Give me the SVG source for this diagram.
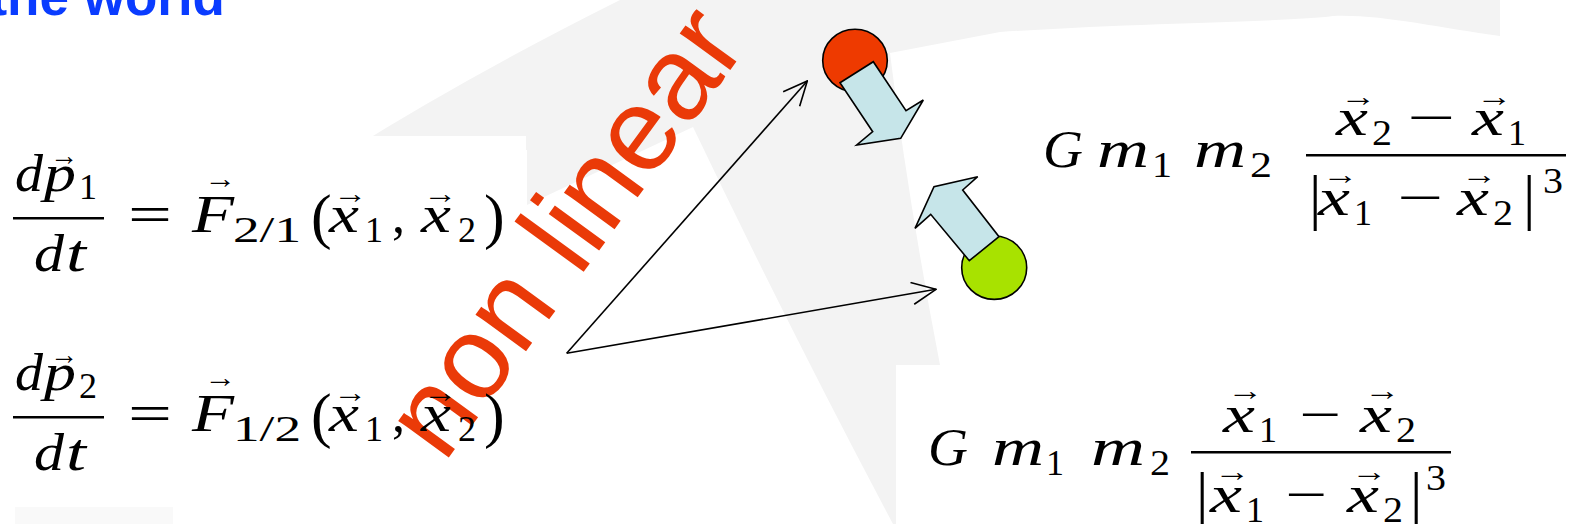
<svg xmlns="http://www.w3.org/2000/svg" width="1570" height="524" viewBox="0 0 1570 524">
<style>
.m{font-family:"Liberation Serif","Times New Roman",serif;font-size:52px;font-style:italic;fill:#000}
.r{font-style:normal}
.s{font-size:36px;font-style:normal}
.v{font-size:28px;font-style:normal}
.p{font-size:62px;font-style:normal}
.ln{fill:none;stroke:#000;stroke-width:1.6}
.blk{fill:#c6e5e9;stroke:#000;stroke-width:1.6;stroke-linejoin:miter}
</style>
<defs>
<marker id="open" markerUnits="userSpaceOnUse" markerWidth="26" markerHeight="24" viewBox="-1 -1 26 24" refX="24" refY="11" orient="auto">
<path d="M0,0 L24,11 L0,22" fill="none" stroke="#000" stroke-width="1.6"/>
</marker>
</defs>
<rect width="1570" height="524" fill="#fff"/>
<g id="background">
<path d="M350,150 Q470,75 620,0 L1500,0 L1500,36 C1440,28 1380,14 1333,16 C1290,22 1150,22 1000,32 L890,53 Q908,200 940,365 L960,524 L893,524 Q790,330 693,127 L527,205 L527,150 Z" fill="#f3f3f3"/>
<rect x="0" y="136" width="526" height="280" fill="#fff"/>
<rect x="896" y="365" width="674" height="159" fill="#fff"/>
<rect x="15" y="507" width="158" height="17" fill="#f9f9f9"/>
</g>
<g id="title">
<text x="225" y="15" text-anchor="end" font-family="Liberation Sans, Arial, sans-serif" font-weight="bold" font-size="53" fill="#0a3cff">the world</text>
</g>
<g id="label-nonlinear">
<text x="444" y="464" transform="rotate(-54 444 464)" font-family="Liberation Sans, Arial, sans-serif" font-size="118" fill="#ea3a08">non linear</text>
</g>
<g id="eq1" class="m">
<text x="15" y="191" textLength="28" lengthAdjust="spacingAndGlyphs">d</text>
<text x="44" y="191" textLength="32" lengthAdjust="spacingAndGlyphs">p</text>
<text class="v" x="50" y="165" textLength="28" lengthAdjust="spacingAndGlyphs">→</text>
<text class="s" x="79" y="199" textLength="18" lengthAdjust="spacingAndGlyphs">1</text>
<rect x="13" y="217" width="91" height="2.5"/>
<text x="34" y="271" textLength="30" lengthAdjust="spacingAndGlyphs">d</text>
<text x="66" y="271" textLength="20" lengthAdjust="spacingAndGlyphs">t</text>
<text class="r" x="128" y="232" textLength="44" lengthAdjust="spacingAndGlyphs">=</text>
<text x="192" y="232" textLength="42" lengthAdjust="spacingAndGlyphs">F</text>
<text class="v" x="204" y="188" textLength="32" lengthAdjust="spacingAndGlyphs">→</text>
<text class="s" x="233" y="242" textLength="68" lengthAdjust="spacingAndGlyphs">2/1</text>
<text class="p" x="311" y="237">(</text>
<text x="329" y="232" textLength="30" lengthAdjust="spacingAndGlyphs">x</text>
<text class="v" x="333" y="203" textLength="34" lengthAdjust="spacingAndGlyphs">→</text>
<text class="s" x="365" y="242" textLength="18" lengthAdjust="spacingAndGlyphs">1</text>
<text class="r" x="392" y="232">,</text>
<text x="421" y="232" textLength="30" lengthAdjust="spacingAndGlyphs">x</text>
<text class="v" x="423" y="203" textLength="34" lengthAdjust="spacingAndGlyphs">→</text>
<text class="s" x="458" y="242" textLength="18" lengthAdjust="spacingAndGlyphs">2</text>
<text class="p" x="484" y="237">)</text>
</g>
<g id="eq2" class="m">
<text x="15" y="390" textLength="28" lengthAdjust="spacingAndGlyphs">d</text>
<text x="44" y="390" textLength="32" lengthAdjust="spacingAndGlyphs">p</text>
<text class="v" x="50" y="364" textLength="28" lengthAdjust="spacingAndGlyphs">→</text>
<text class="s" x="79" y="398" textLength="18" lengthAdjust="spacingAndGlyphs">2</text>
<rect x="13" y="416" width="91" height="2.5"/>
<text x="34" y="470" textLength="30" lengthAdjust="spacingAndGlyphs">d</text>
<text x="66" y="470" textLength="20" lengthAdjust="spacingAndGlyphs">t</text>
<text class="r" x="128" y="431" textLength="44" lengthAdjust="spacingAndGlyphs">=</text>
<text x="192" y="431" textLength="42" lengthAdjust="spacingAndGlyphs">F</text>
<text class="v" x="204" y="387" textLength="32" lengthAdjust="spacingAndGlyphs">→</text>
<text class="s" x="233" y="441" textLength="68" lengthAdjust="spacingAndGlyphs">1/2</text>
<text class="p" x="311" y="436">(</text>
<text x="329" y="431" textLength="30" lengthAdjust="spacingAndGlyphs">x</text>
<text class="v" x="333" y="402" textLength="34" lengthAdjust="spacingAndGlyphs">→</text>
<text class="s" x="365" y="441" textLength="18" lengthAdjust="spacingAndGlyphs">1</text>
<text class="r" x="392" y="431">,</text>
<text x="421" y="431" textLength="30" lengthAdjust="spacingAndGlyphs">x</text>
<text class="v" x="423" y="402" textLength="34" lengthAdjust="spacingAndGlyphs">→</text>
<text class="s" x="458" y="441" textLength="18" lengthAdjust="spacingAndGlyphs">2</text>
<text class="p" x="484" y="436">)</text>
</g>
<g id="force-top" class="m">
<text x="1043" y="167" textLength="40" lengthAdjust="spacingAndGlyphs">G</text>
<text x="1097" y="167" textLength="52" lengthAdjust="spacingAndGlyphs">m</text>
<text class="s" x="1152" y="177" textLength="20" lengthAdjust="spacingAndGlyphs">1</text>
<text x="1194" y="167" textLength="52" lengthAdjust="spacingAndGlyphs">m</text>
<text class="s" x="1250" y="177" textLength="22" lengthAdjust="spacingAndGlyphs">2</text>
<rect x="1306" y="154" width="260" height="2.5"/>
<text x="1336" y="135" textLength="32" lengthAdjust="spacingAndGlyphs">x</text>
<text class="v" x="1340" y="106" textLength="36" lengthAdjust="spacingAndGlyphs">→</text>
<text class="s" x="1372" y="145" textLength="20" lengthAdjust="spacingAndGlyphs">2</text>
<text class="r" x="1407" y="135" textLength="48" lengthAdjust="spacingAndGlyphs">−</text>
<text x="1472" y="135" textLength="32" lengthAdjust="spacingAndGlyphs">x</text>
<text class="v" x="1476" y="106" textLength="36" lengthAdjust="spacingAndGlyphs">→</text>
<text class="s" x="1508" y="145" textLength="18" lengthAdjust="spacingAndGlyphs">1</text>
<text class="p" x="1309" y="218">|</text>
<text x="1318" y="215" textLength="32" lengthAdjust="spacingAndGlyphs">x</text>
<text class="v" x="1322" y="184" textLength="36" lengthAdjust="spacingAndGlyphs">→</text>
<text class="s" x="1354" y="225" textLength="18" lengthAdjust="spacingAndGlyphs">1</text>
<text class="r" x="1397" y="215" textLength="46" lengthAdjust="spacingAndGlyphs">−</text>
<text x="1457" y="215" textLength="32" lengthAdjust="spacingAndGlyphs">x</text>
<text class="v" x="1461" y="184" textLength="36" lengthAdjust="spacingAndGlyphs">→</text>
<text class="s" x="1493" y="225" textLength="20" lengthAdjust="spacingAndGlyphs">2</text>
<text class="p" x="1523" y="218">|</text>
<text class="s" x="1543" y="193" textLength="20" lengthAdjust="spacingAndGlyphs">3</text>
</g>
<g id="force-bottom" class="m">
<text x="928" y="465" textLength="40" lengthAdjust="spacingAndGlyphs">G</text>
<text x="992" y="465" textLength="52" lengthAdjust="spacingAndGlyphs">m</text>
<text class="s" x="1046" y="475" textLength="18" lengthAdjust="spacingAndGlyphs">1</text>
<text x="1091" y="465" textLength="54" lengthAdjust="spacingAndGlyphs">m</text>
<text class="s" x="1150" y="475" textLength="20" lengthAdjust="spacingAndGlyphs">2</text>
<rect x="1191" y="451" width="260" height="2.5"/>
<text x="1223" y="432" textLength="32" lengthAdjust="spacingAndGlyphs">x</text>
<text class="v" x="1227" y="400" textLength="36" lengthAdjust="spacingAndGlyphs">→</text>
<text class="s" x="1259" y="442" textLength="18" lengthAdjust="spacingAndGlyphs">1</text>
<text class="r" x="1299" y="432" textLength="42" lengthAdjust="spacingAndGlyphs">−</text>
<text x="1360" y="432" textLength="32" lengthAdjust="spacingAndGlyphs">x</text>
<text class="v" x="1364" y="400" textLength="36" lengthAdjust="spacingAndGlyphs">→</text>
<text class="s" x="1396" y="442" textLength="20" lengthAdjust="spacingAndGlyphs">2</text>
<text class="p" x="1196" y="515">|</text>
<text x="1210" y="512" textLength="32" lengthAdjust="spacingAndGlyphs">x</text>
<text class="v" x="1214" y="481" textLength="36" lengthAdjust="spacingAndGlyphs">→</text>
<text class="s" x="1246" y="522" textLength="18" lengthAdjust="spacingAndGlyphs">1</text>
<text class="r" x="1285" y="512" textLength="42" lengthAdjust="spacingAndGlyphs">−</text>
<text x="1347" y="512" textLength="32" lengthAdjust="spacingAndGlyphs">x</text>
<text class="v" x="1351" y="481" textLength="36" lengthAdjust="spacingAndGlyphs">→</text>
<text class="s" x="1383" y="522" textLength="20" lengthAdjust="spacingAndGlyphs">2</text>
<text class="p" x="1410" y="515">|</text>
<text class="s" x="1426" y="490" textLength="20" lengthAdjust="spacingAndGlyphs">3</text>
</g>
<g id="connectors">
<path class="ln" d="M566.7,353.3 L807.3,81" marker-end="url(#open)"/>
<path class="ln" d="M566.7,353.3 L936,289.3" marker-end="url(#open)"/>
</g>
<g id="body-1">
<ellipse cx="855" cy="60.5" rx="32.3" ry="31.2" fill="#ee3a00" stroke="#000" stroke-width="1.6"/>
<polygon class="blk" points="840,82.7 873.3,61.7 906,110.7 923.3,100 900.7,138.3 856.7,145 872.7,131.7"/>
</g>
<g id="body-2">
<ellipse cx="994.2" cy="267.7" rx="32.5" ry="31.7" fill="#a8e200" stroke="#000" stroke-width="1.6"/>
<polygon class="blk" points="969.3,260.7 999,236.7 962.7,190 977.7,176.7 934,186.7 915,228.3 930.7,214.3"/>
</g>
</svg>
